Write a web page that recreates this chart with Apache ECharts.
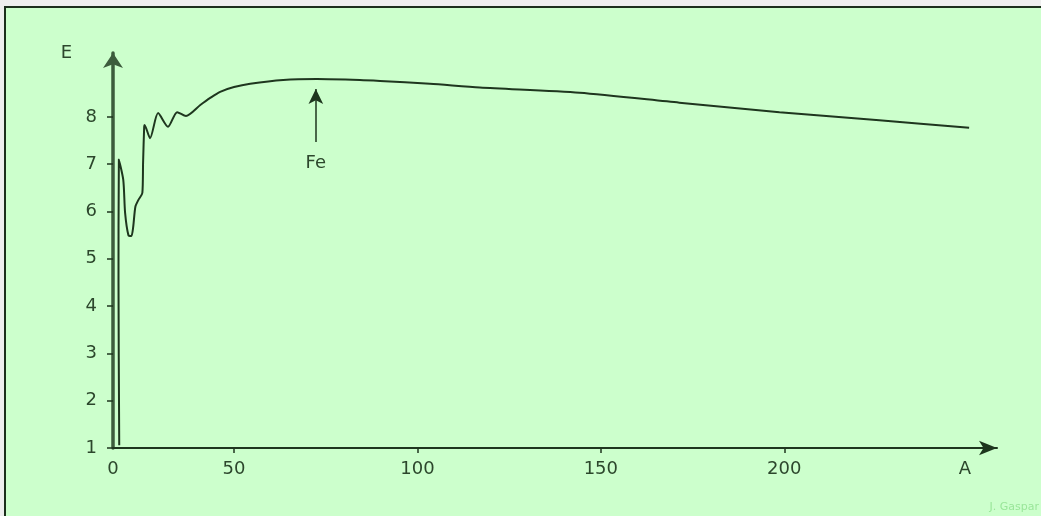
<!DOCTYPE html>
<html>
<head>
<meta charset="utf-8">
<script src="https://cdn.jsdelivr.net/npm/echarts@6/dist/echarts.min.js"></script>
<style>
  html, body { margin: 0; padding: 0; background: #eeeeee; }
  #panel { position: absolute; left: 4px; top: 6px; width: 1045px; height: 520px;
           background: #ccffcc; border-left: 2px solid #1c2e1c; border-top: 2px solid #1c2e1c; box-sizing: border-box; }
  #chart { position: absolute; left: 0; top: 0; width: 1041px; height: 516px; }
</style>
</head>
<body>
<div id="panel"></div>
<div id="chart"></div>
<script>
// Mass number A (as read on the drawn axis) and binding energy per nucleon E
const massNumber = [18.7, 18.5, 18.6, 19.8, 20.3, 21.2, 22.0, 22.5, 23.1, 23.9, 25.0, 25.2, 25.5, 25.6, 27.1, 29.3, 32.0, 34.5, 36.9, 40.8, 43.5, 46.2, 50.0, 54.4, 63.4, 72.6, 84.3, 89.8, 103.4, 117.0, 144.2, 171.4, 198.7, 225.9, 250.4];
const bindingEnergy = [1.06, 4.5, 7.10, 6.67, 5.97, 5.50, 5.48, 5.67, 6.10, 6.24, 6.39, 7.03, 7.79, 7.83, 7.55, 8.08, 7.79, 8.10, 8.02, 8.25, 8.40, 8.53, 8.63, 8.70, 8.78, 8.80, 8.78, 8.76, 8.70, 8.62, 8.51, 8.30, 8.10, 7.93, 7.77];

const xTickValues = [17, 50, 100, 150, 200];
const xTickLabels = ['0', '50', '100', '150', '200'];
const yTickValues = [1, 2, 3, 4, 5, 6, 7, 8];

const feArrow = { a: 72.3, from: 7.47, to: 8.59, label: 'Fe' };

const curve = massNumber.map((a, i) => [a, bindingEnergy[i]]);

const ink = '#1e361e';
const textColor = '#2c472c';
const font = 'DejaVu Sans';
const fs = 18;

const chart = echarts.init(document.getElementById('chart'), null, { renderer: 'canvas' });
chart.setOption({
  animation: false,
  backgroundColor: 'transparent',
  grid: { left: 113, right: 44, top: 53, bottom: 68, outerBoundsMode: 'none' },
  xAxis: {
    type: 'value', min: 17, max: 258,
    name: 'A', nameLocation: 'end', nameGap: 0,
    nameTextStyle: { color: textColor, fontFamily: font, fontSize: fs, align: 'right', verticalAlign: 'top', padding: [12, 26, 0, 0] },
    axisLine: { onZero: false, lineStyle: { color: ink, width: 2 }, symbol: ['none', 'arrow'], symbolSize: [11, 18] },
    axisTick: { show: true, length: 5, lineStyle: { color: ink, width: 1.5 }, customValues: xTickValues.slice(1) },
    axisLabel: { color: textColor, fontFamily: font, fontSize: fs, margin: 12, customValues: xTickValues,
      formatter: v => xTickLabels[xTickValues.indexOf(v)] },
    splitLine: { show: false }
  },
  yAxis: {
    type: 'value', min: 1, max: 9.35,
    name: 'E', nameLocation: 'end', nameGap: 0,
    nameTextStyle: { color: textColor, fontFamily: font, fontSize: fs, align: 'right', verticalAlign: 'middle', padding: [2, 41, 0, 0] },
    axisLine: { onZero: false, lineStyle: { color: '#3d5c3d', width: 3.5 }, symbol: ['none', 'arrow'], symbolSize: [15, 15] },
    axisTick: { show: true, length: 6, lineStyle: { color: ink, width: 1.5 }, customValues: yTickValues },
    axisLabel: { color: textColor, fontFamily: font, fontSize: fs, margin: 16, customValues: yTickValues },
    splitLine: { show: false }
  },
  series: [{
    type: 'line',
    data: curve,
    showSymbol: false,
    smooth: 0.25,
    lineStyle: { color: ink, width: 2 },
    markLine: {
      silent: true,
      symbol: ['none', 'arrow'],
      symbolSize: [11, 15],
      lineStyle: { color: ink, width: 1.5, type: 'solid' },
      label: { show: true, position: 'start', distance: 12, formatter: feArrow.label, color: textColor, fontFamily: font, fontSize: fs },
      data: [[{ coord: [feArrow.a, feArrow.from] }, { coord: [feArrow.a, feArrow.to] }]]
    }
  }],
  graphic: [{
    type: 'text', right: 2, bottom: 3,
    style: { text: 'J. Gaspar', fill: '#99e699', font: '11px DejaVu Sans' }
  }]
});
</script>
</body>
</html>
